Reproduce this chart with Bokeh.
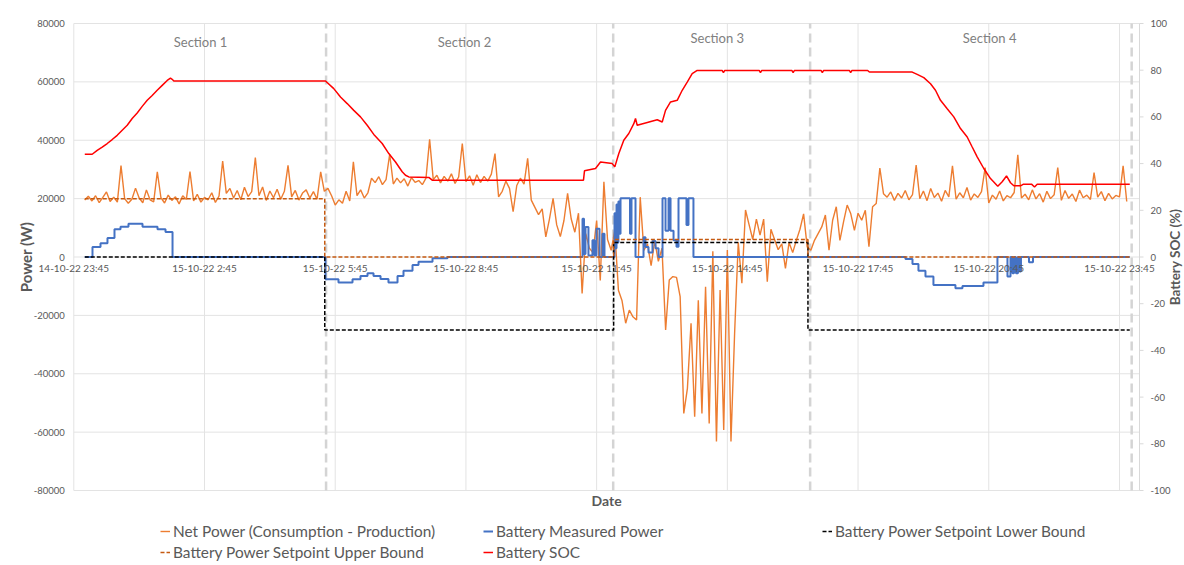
import numpy as np
from bokeh.plotting import figure
from bokeh.models import (Range1d, ColumnDataSource, LabelSet, Label, Legend, LegendItem)
from bokeh.core.properties import value
from bokeh.embed import file_html
from bokeh.resources import INLINE

FONT = "Lato"
TXT = "#595959"
GRID = "#e3e3e3"

# ---------------- data (time in hours after 14-10-22 23:45) ----------------
x_tick_hours = [0, 3, 6, 9, 12, 15, 18, 21, 24]
x_tick_labels = ["14-10-22 23:45", "15-10-22 2:45", "15-10-22 5:45", "15-10-22 8:45",
                 "15-10-22 11:45", "15-10-22 14:45", "15-10-22 17:45", "15-10-22 20:45",
                 "15-10-22 23:45"]
power_ticks = [-80000, -60000, -40000, -20000, 0, 20000, 40000, 60000, 80000]
soc_ticks = [-100, -80, -60, -40, -20, 0, 20, 40, 60, 80, 100]

# Net power, one reading every 5 minutes starting 15-10-22 0:00
net_start_hour = 0.25
net_step_minutes = 5
net_power = [
    19500, 20800, 19200, 21000, 18600, 20400, 22300, 19000, 20500, 18800,
    31300, 20000, 18400, 19800, 23600, 20200, 18600, 23000, 19600, 18900,
    29200, 20300, 18500, 21200, 19400, 20600, 18200, 21000, 19700, 29300,
    19200, 21500, 18800, 20400, 19600, 22000, 18700, 20900, 32900, 21800,
    23500, 20200, 22800, 19600, 23900, 20700, 22400, 34100, 21000, 24000,
    19400, 22600, 20300, 23200, 19800, 22500, 31400, 20600, 22800, 19500,
    21900, 23000, 20200, 22400, 19800, 29200, 22500, 23500, 21000, 17800,
    19600, 18400, 22500, 19200, 32600, 21000, 23000, 20200, 22000, 27000,
    25500, 27500, 24800, 26500, 35200, 25000, 27000, 25400, 26800, 24300,
    27200, 25600, 26200, 24800, 27000, 40300, 26500, 28000, 25400, 27600,
    26000, 28500, 25200, 27400, 38900, 25800, 27800, 24600, 28200, 25500,
    27600, 26000, 28400, 35400, 20600, 22500, 26000, 23500, 15500, 24500,
    27000, 25000, 33800, 19500, 17000, 14500, 16500, 6900, 13000, 20100,
    11000, 7000, 12500, 21800, 13000, 8500, 15000, -12500, 8000, 3000,
    1500, 12500, -8000, 25800, 6000, 2300, 9100, -11400, -15000, -22700,
    -18200, -20500, -21600, 20500, 2300, 4500, -3000, 5500, -1500, 3000,
    -25000, -7900, -6700, -7000, -13600, -53600, -45000, -22700, -54700, -14800,
    -53600, -10200, -57000, 2000, -63200, -11300, -59300, 2400, -63200, -26100,
    5000, -9000, 16100, 11000, 6000, 13000, 7500, 13000, -8500, 9500,
    6000, 2500, 4500, -3900, 5000, 1500, 5700, 9500, 14800, 3400,
    2300, 5700, 8000, 10300, 14400, 2300, 12600, 17200, 5700, 12000,
    17800, 14800, 9100, 15000, 12600, 16000, 3500, 17200, 18300, 30500,
    21700, 20500, 22300, 19400, 21800, 20200, 22800, 19600, 21400, 31500,
    20000, 22600, 19300, 23500, 20400, 21900, 19100, 22800, 20600, 31200,
    19800, 22000, 20300, 23800, 19500, 21600, 20400, 22400, 30600, 18500,
    21200, 19800, 22600, 19200, 21000, 20300, 22100, 35000, 20200, 21500,
    19600, 23000, 19900, 21700, 18800, 22500, 20000, 21300, 30600, 19400,
    22800, 20100, 21600, 19000, 22900, 20300, 21200, 19700, 28900, 20500,
    22400, 19300, 21800, 19900, 21100, 20600, 31200, 19000,
]
net_time = [net_start_hour + i * net_step_minutes / 60 for i in range(len(net_power))]

batt_time = [0.252, 0.429, 0.613, 0.773, 0.934, 1.072, 1.255, 1.577, 1.921, 2.105, 2.266,
             5.777, 6.075, 6.397, 6.580, 6.741, 6.879, 7.040, 7.222, 7.430, 7.567, 7.774,
             7.912, 8.233, 8.577,
             11.676, 11.710, 11.744, 11.812, 11.904, 11.950, 11.996, 12.066, 12.134, 12.180,
             12.410, 12.430, 12.456, 12.479, 12.500, 12.525, 12.548, 12.766, 12.800, 12.892,
             13.076, 13.121, 13.190, 13.282, 13.351, 13.420, 13.512, 13.581, 13.650, 13.696,
             13.765, 13.833, 13.879, 14.062, 14.108, 14.222,
             19.088, 19.249, 19.386, 19.547, 19.730, 20.235, 20.396, 20.878, 21.199,
             21.429, 21.499, 21.545, 21.579, 21.624, 21.670, 21.705, 21.739,
             21.923, 22.015, 24.236]
batt_power = [0, 3400, 4700, 6500, 9500, 10400, 11400, 10400, 9500, 8600, 0,
              -7600, -8700, -7600, -6500, -5600, -6500, -7500, -8700, -6500, -4700, -2700,
              -1600, -460, 0,
              13100, 1000, 10300, 500, 5700, 500, 9700, 0, 8000, 0,
              15000, 3000, 18000, 5000, 19000, 8000, 20100, 8000, 20100, 0,
              6800, 3400, 1500, 5500, 3000, 0, 20100, 9000, 20100, 9000,
              5700, 3500, 20100, 11000, 20100, 0,
              -700, -2400, -4700, -6700, -9600, -10700, -9900, -8700, 0,
              -6700, 0, -5600, 0, -5600, 0, -5000, 0,
              -1800, 0, 0]

bound_time = [0.252, 5.76, 12.39, 16.85, 24.236]
lower_bound = [0, -25000, 5000, -25000, -25000]
upper_bound = [20000, 0, 6000, 0, 0]

soc_time = [0.252, 0.422, 0.537, 0.652, 0.767, 0.881, 0.996, 1.111, 1.226, 1.340,
            1.455, 1.570, 1.685, 1.799, 1.914, 2.029, 2.144, 2.219, 2.258, 2.295,
            5.777, 5.967, 6.121, 6.275, 6.426, 6.580, 6.734, 6.885, 7.078, 7.230,
            7.384, 7.537, 7.613, 7.689, 8.148, 8.226, 11.698, 11.721, 11.974, 12.089,
            12.357, 12.417, 12.509, 12.623, 12.738, 12.853, 12.892, 12.931, 13.121, 13.390,
            13.505, 13.581, 13.696, 13.849, 13.964, 14.079, 14.193, 14.308, 14.88, 14.91,
            14.94, 15.73, 15.76, 15.79, 16.48, 16.51, 16.54, 17.15, 17.18, 17.21,
            17.80, 17.83, 17.86, 18.22, 18.26, 19.243, 19.357, 19.509, 19.663, 19.777,
            19.892, 20.046, 20.197, 20.351, 20.505, 20.620, 20.734, 20.886, 21.040, 21.207,
            21.308, 21.407, 21.499, 21.575, 21.729, 21.797, 21.981, 22.050, 22.111, 24.236]
soc_value = [44.0, 44.0, 45.7, 47.1, 48.6, 50.3, 52.1, 54.3, 56.4, 59.3,
             61.7, 64.5, 67.1, 69.2, 71.4, 73.5, 75.6, 76.6, 76.1, 75.4,
             75.4, 72.1, 68.5, 65.7, 62.8, 60.0, 56.4, 52.5, 48.6, 44.3,
             40.7, 36.5, 35.0, 34.3, 34.1, 32.9, 32.9, 36.9, 37.9, 40.7,
             40.0, 38.6, 44.3, 50.0, 52.9, 57.1, 59.3, 56.4, 57.4, 58.8,
             57.8, 62.8, 66.4, 67.1, 71.4, 74.9, 78.5, 79.9, 79.9, 79.0,
             79.9, 79.9, 79.0, 79.9, 79.9, 79.0, 79.9, 79.9, 79.0, 79.9,
             79.9, 79.0, 79.9, 79.9, 79.2, 79.2, 78.2, 76.8, 74.2, 71.4,
             67.1, 63.5, 60.0, 55.0, 51.4, 47.1, 42.9, 37.9, 33.6, 30.3,
             32.2, 34.7, 31.8, 30.5, 30.5, 31.2, 31.2, 30.0, 31.2, 31.2]

section_names = ["Section 1", "Section 2", "Section 3", "Section 4"]
section_label_time = [2.91, 8.97, 14.77, 21.02]
section_label_power = [73600, 73600, 75000, 75000]
section_divider_time = [5.79, 12.38, 16.90, 24.28]

# ---------------- layout (pixels of the 1184 x 565 canvas) ----------------
W, H = 1184, 565
PLOT_L, PLOT_R, PLOT_T, PLOT_B = 73.3, 1139.0, 23.0, 490.0
PX_PER_HOUR = 43.57
X_END = (PLOT_R - PLOT_L) / PX_PER_HOUR
P_MIN, P_MAX = power_ticks[0], power_ticks[-1]
S_MIN, S_MAX = soc_ticks[0], soc_ticks[-1]
p_per_px = (P_MAX - P_MIN) / (PLOT_B - PLOT_T)
s_per_px = (S_MAX - S_MIN) / (PLOT_B - PLOT_T)

p = figure(width=W, height=H, output_backend="svg", toolbar_location=None,
           x_axis_location=None, y_axis_location=None, min_border=0,
           x_range=Range1d(-PLOT_L / PX_PER_HOUR, (W - PLOT_L) / PX_PER_HOUR),
           y_range=Range1d(P_MAX - (H - PLOT_T) * p_per_px, P_MAX + PLOT_T * p_per_px))
p.extra_y_ranges = {"soc": Range1d(S_MAX - (H - PLOT_T) * s_per_px, S_MAX + PLOT_T * s_per_px)}
p.outline_line_color = None
p.background_fill_color = "white"
p.border_fill_color = "white"
p.grid.visible = False

# gridlines
p.segment(x0=[0] * len(power_ticks), x1=[X_END] * len(power_ticks), y0=power_ticks,
          y1=power_ticks, line_color=GRID, line_width=1)
p.segment(x0=x_tick_hours, x1=x_tick_hours, y0=[P_MIN] * len(x_tick_hours),
          y1=[P_MAX] * len(x_tick_hours), line_color=GRID, line_width=1)

# right axis line and tick marks
p.segment(x0=[X_END], x1=[X_END], y0=[S_MIN], y1=[S_MAX], line_color="#d9d9d9",
          line_width=1, y_range_name="soc")
p.segment(x0=[X_END] * len(soc_ticks), x1=[X_END + 4 / PX_PER_HOUR] * len(soc_ticks),
          y0=soc_ticks, y1=soc_ticks, line_color="#d9d9d9", line_width=1, y_range_name="soc")

# section dividers
p.segment(x0=section_divider_time, x1=section_divider_time,
          y0=[P_MIN] * len(section_divider_time), y1=[P_MAX] * len(section_divider_time),
          line_color="#d4d4d4", line_width=2.5, line_dash="9 5")

# series
r_net = p.line(net_time, net_power, line_color="#ed7d31", line_width=1.4)
r_batt = p.step(batt_time, batt_power, mode="after", line_color="#4472c4", line_width=2)
r_lb = p.step(bound_time, lower_bound, mode="after", line_color="#000000",
              line_width=1.5, line_dash="4 2")
r_ub = p.step(bound_time, upper_bound, mode="after", line_color="#c55a11",
              line_width=1.5, line_dash="4 2")
r_soc = p.line(soc_time, soc_value, line_color="#ff0000", line_width=1.5, y_range_name="soc")

# left tick labels
lt_src = ColumnDataSource(dict(x=[0] * len(power_ticks), y=power_ticks,
                               text=[str(t) for t in power_ticks]))
p.add_layout(LabelSet(x="x", y="y", text="text", source=lt_src, x_offset=-9,
                      text_align="right", text_baseline="middle", text_font=value(FONT),
                      text_font_size=value("9.5px"), text_color=TXT))
# right tick labels
rt_src = ColumnDataSource(dict(x=[X_END] * len(soc_ticks), y=soc_ticks,
                               text=[str(t) for t in soc_ticks]))
p.add_layout(LabelSet(x="x", y="y", text="text", source=rt_src, y_range_name="soc",
                      x_offset=11, text_align="left", text_baseline="middle",
                      text_font=value(FONT), text_font_size=value("9.5px"), text_color=TXT))
# date tick labels under the zero line
xt_src = ColumnDataSource(dict(x=x_tick_hours, y=[0] * len(x_tick_hours), text=x_tick_labels))
p.add_layout(LabelSet(x="x", y="y", text="text", source=xt_src, y_offset=-11,
                      text_align="center", text_baseline="middle", text_font=value(FONT),
                      text_font_size=value("10px"), text_color=TXT))
# section labels
sec_src = ColumnDataSource(dict(x=section_label_time, y=section_label_power, text=section_names))
p.add_layout(LabelSet(x="x", y="y", text="text", source=sec_src, text_align="center",
                      text_baseline="middle", text_font=value(FONT),
                      text_font_size=value("13px"), text_color="#808080"))

# axis titles
p.add_layout(Label(x=0, y=0, x_offset=-48, text="Power (W)", angle=np.pi / 2,
                   text_align="center", text_baseline="middle", text_font=FONT,
                   text_font_size="15px", text_font_style="bold", text_color=TXT))
p.add_layout(Label(x=X_END, y=0, y_range_name="soc", x_offset=35, text="Battery SOC (%)",
                   angle=np.pi / 2, text_align="center", text_baseline="middle",
                   text_font=FONT, text_font_size="13.5px", text_font_style="bold",
                   text_color=TXT))
p.add_layout(Label(x=X_END / 2, y=P_MIN, y_offset=-10, text="Date", text_align="center",
                   text_baseline="middle", text_font=FONT, text_font_size="14px",
                   text_font_style="bold", text_color=TXT))

# legends (three columns under the chart)
def make_legend(items, loc):
    leg = Legend(items=items, location=loc, orientation="vertical", padding=0, margin=0,
                 spacing=1, glyph_width=10, glyph_height=20, label_height=20,
                 label_standoff=3, border_line_color=None, background_fill_alpha=0,
                 label_text_font=FONT, label_text_font_size="15.4px", label_text_color=TXT)
    p.add_layout(leg, "center")

make_legend([LegendItem(label="Net Power (Consumption - Production)", renderers=[r_net]),
             LegendItem(label="Battery Power Setpoint Upper Bound", renderers=[r_ub])], (160, 3))
make_legend([LegendItem(label="Battery Measured Power", renderers=[r_batt]),
             LegendItem(label="Battery SOC", renderers=[r_soc])], (483, 3))
make_legend([LegendItem(label="Battery Power Setpoint Lower Bound", renderers=[r_lb])],
            (822, 24))

open("out.html", "w").write(file_html(p, INLINE))
